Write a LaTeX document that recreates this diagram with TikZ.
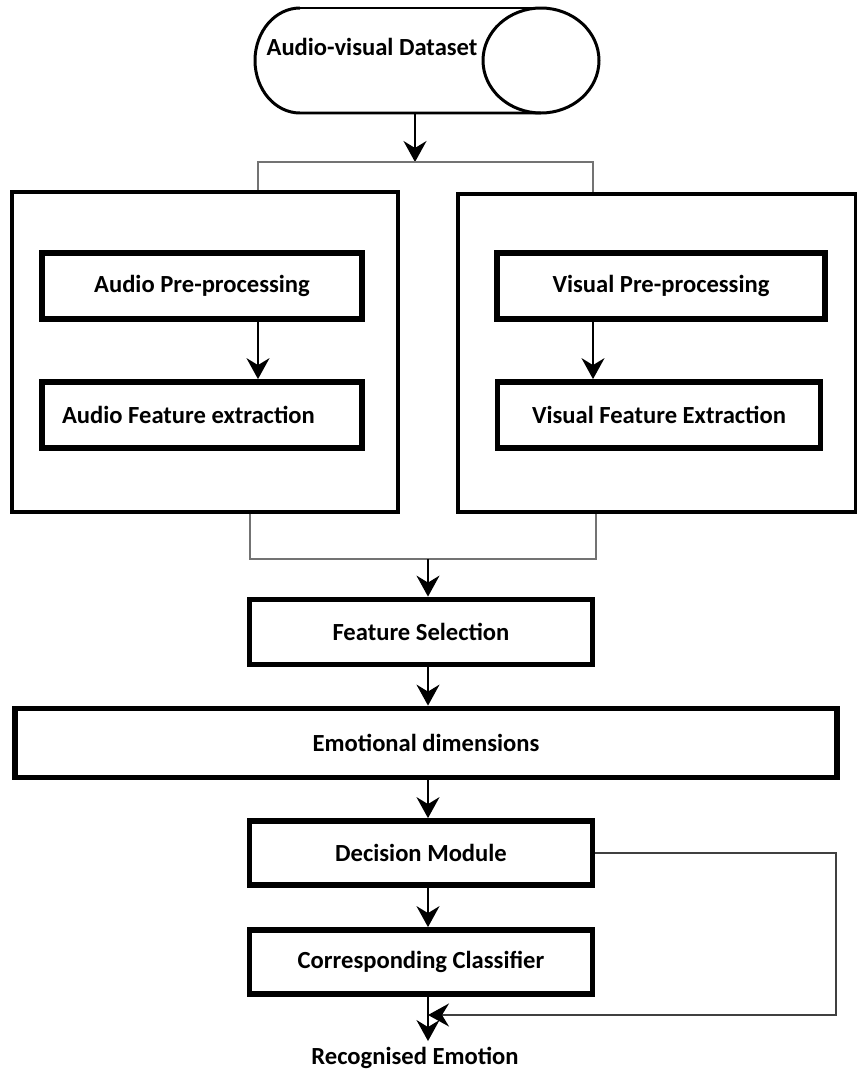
\documentclass[tikz,border=0pt]{standalone}
\usepackage{fontspec}
\setmainfont{Carlito}
\usetikzlibrary{arrows.meta}
\tikzset{>={Stealth[length=0.42cm,width=0.46cm,inset=0.14cm]}}
\tikzset{blk/.style={draw,rectangle,line width=3.3pt,font=\fontsize{14}{16}\selectfont\bfseries}}
\tikzset{grp/.style={draw,rectangle,line width=2.2pt}}
\tikzset{flow/.style={->,line width=1.1pt}}
\tikzset{brk/.style={draw=black!55,line width=0.6pt}}
\tikzset{fbk/.style={-{Stealth[length=0.42cm,width=0.46cm,inset=0.14cm,color=black]},draw=black!75,line width=1pt}}

\begin{document}
\begin{tikzpicture}[x=0.02cm,y=-0.02cm]
    \useasboundingbox (0,0) rectangle (857,1069);
    % dataset drum
    \draw[line width=1.7pt] (300,8) -- (541,8);
    \draw[line width=1.7pt] (300,8) arc (270:90:45 and 52.5) -- (541,113);
    \draw[line width=1.7pt] (541,60.5) ellipse [x radius=58, y radius=52.5];
    \node[minimum width=6.9cm,minimum height=2.1cm,inner sep=0pt] (ds) at (427,60.5) {};
    \node[font=\fontsize{14}{16}\selectfont\bfseries] (dstext) at (372,47) {Audio-visual Dataset};
    \node[grp,minimum width=7.72cm,minimum height=6.4cm] (lbox) at (205,352) {};
    \node[grp,minimum width=7.96cm,minimum height=6.36cm] (rbox) at (657,353) {};
    \node[blk,minimum width=6.4cm,minimum height=1.32cm] (apre) at (202,286) {Audio Pre-processing};
    \node[blk,minimum width=6.4cm,minimum height=1.32cm] (afeat) at (202,415) {\makebox[5.6cm][l]{Audio Feature extraction}};
    \node[blk,minimum width=6.56cm,minimum height=1.32cm] (vpre) at (661,286) {Visual Pre-processing};
    \node[blk,minimum width=6.46cm,minimum height=1.32cm] (vfeat) at (659,415) {Visual Feature Extraction};
    \node[blk,minimum width=6.86cm,minimum height=1.3cm] (fs) at (421,632) {Feature Selection};
    \node[blk,minimum width=16.44cm,minimum height=1.38cm] (ed) at (426,743) {Emotional dimensions};
    \node[blk,minimum width=6.86cm,minimum height=1.28cm] (dm) at (421,853) {Decision Module};
    \node[blk,minimum width=6.86cm,minimum height=1.28cm] (cc) at (421,962) {Corresponding Classifier};
    \node[font=\fontsize{14}{16}\selectfont\bfseries] (re) at (415,1058) {Recognised Emotion};
    \coordinate (tj) at (415,162);
    \coordinate (tjl) at (258,162);
    \coordinate (tjr) at (593,162);
    \coordinate (bjl) at (250,559);
    \coordinate (bjr) at (596,559);
    \coordinate (bj) at (428,559);
    \coordinate (ax) at (428,0);
    \coordinate (fb) at (836,1015);
    \draw[flow] (tj |- ds.south) -- (tj);
    \draw[brk] (lbox.north -| tjl) -- (tjl) -- (tjr) -- (rbox.north -| tjr);
    \draw[flow] (apre.south -| tjl) -- (afeat.north -| tjl);
    \draw[flow] (vpre.south -| tjr) -- (vfeat.north -| tjr);
    \draw[brk] (lbox.south -| bjl) -- (bjl) -- (bjr) -- (rbox.south -| bjr);
    \draw[flow] (bj) -- (fs.north -| bj);
    \draw[flow] (fs.south -| ax) -- (ed.north -| ax);
    \draw[flow] (ed.south -| ax) -- (dm.north -| ax);
    \draw[flow] (dm.south -| ax) -- (cc.north -| ax);
    \draw[flow] (cc.south -| ax) -- (re.north -| ax);
    \draw[fbk] (dm.east) -| (fb) -- (fb -| ax);
  \end{tikzpicture}
\end{document}
